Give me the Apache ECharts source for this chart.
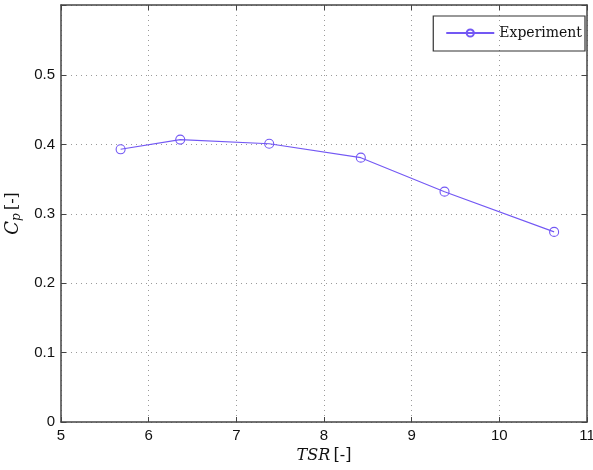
<!DOCTYPE html>
<html>
<head>
<meta charset="utf-8">
<script src="https://cdn.jsdelivr.net/npm/echarts@6/dist/echarts.min.js"></script>
<style>html,body{margin:0;padding:0;background:#fff}#c{width:593px;height:470px}</style>
</head>
<body>
<div id="c"></div>
<script>
const tsr = [5.68, 6.36, 7.375, 8.42, 9.375, 10.625];
const cp = [0.393, 0.407, 0.401, 0.381, 0.332, 0.274];
const seriesName = 'Experiment';
const xTicks = [5, 6, 7, 8, 9, 10, 11];
const yTicks = [0, 0.1, 0.2, 0.3, 0.4, 0.5];

const chart = echarts.init(document.getElementById('c'), null, {renderer: 'canvas'});
const lineColor = '#7358F4';
const axisCol = '#444';
const gridLine = {show: true, lineStyle: {color: '#9a9a9a', type: [1, 4], width: 1}};
const tickStyle = {show: true, inside: true, length: 5, lineStyle: {color: axisCol, width: 1}};
const labelFont = {fontFamily: 'Liberation Sans, Arial, sans-serif', fontSize: 15, color: '#111'};

chart.setOption({
  animation: false,
  backgroundColor: '#fff',
  grid: {left: 61, right: 6, top: 5, bottom: 48, containLabel: false, outerBoundsMode: 'none'},
  legend: {
    data: [seriesName],
    right: 8, top: 16,
    padding: [10, 3, 11, 12],
    borderColor: '#333', borderWidth: 1.2,
    itemWidth: 48, itemHeight: 9, itemGap: 4,
    textStyle: {fontFamily: 'DejaVu Serif, serif', fontSize: 14, color: '#111'}
  },
  xAxis: [{
    type: 'value', min: 5, max: 11, interval: 1,
    name: '{i|TSR} {n|[-]}', nameLocation: 'middle', nameGap: 25,
    nameTextStyle: {rich: {
      i: {fontFamily: 'DejaVu Serif, serif', fontStyle: 'italic', fontSize: 16, color: '#111'},
      n: {fontFamily: 'DejaVu Serif, serif', fontSize: 16, color: '#111'}
    }},
    axisLine: {show: true, onZero: false, lineStyle: {color: axisCol, width: 1.5}},
    axisTick: tickStyle,
    axisLabel: Object.assign({margin: 6}, labelFont),
    splitLine: gridLine
  }, {
    type: 'value', min: 5, max: 11, interval: 1, position: 'top',
    axisLine: {show: true, onZero: false, lineStyle: {color: axisCol, width: 1.5}},
    axisTick: tickStyle, axisLabel: {show: false}, splitLine: {show: false}
  }],
  yAxis: [{
    type: 'value', min: 0, max: 0.601, interval: 0.1,
    name: '{c|C}{p|p} {n|[-]}', nameLocation: 'middle', nameGap: 32, nameRotate: 90,
    nameTextStyle: {rich: {
      c: {fontFamily: 'DejaVu Serif, serif', fontStyle: 'italic', fontSize: 18, color: '#111'},
      p: {fontFamily: 'DejaVu Serif, serif', fontStyle: 'italic', fontSize: 12, color: '#111', verticalAlign: 'bottom', padding: [8, 0, 0, 0]},
      n: {fontFamily: 'DejaVu Serif, serif', fontSize: 16, color: '#111'}
    }},
    axisLine: {show: true, onZero: false, lineStyle: {color: axisCol, width: 1.5}},
    axisTick: tickStyle,
    axisLabel: Object.assign({margin: 6, showMaxLabel: false,
      formatter: v => (v > 0.55 ? '' : String(Math.round(v * 10) / 10))}, labelFont),
    splitLine: gridLine
  }, {
    type: 'value', min: 0, max: 0.601, interval: 0.1, position: 'right',
    axisLine: {show: true, onZero: false, lineStyle: {color: axisCol, width: 1.5}},
    axisTick: tickStyle, axisLabel: {show: false}, splitLine: {show: false}
  }],
  series: [{
    name: seriesName,
    type: 'line',
    data: tsr.map((x, i) => [x, cp[i]]),
    symbol: 'circle', symbolSize: 9,
    lineStyle: {color: lineColor, width: 1.1},
    itemStyle: {color: 'rgba(255,255,255,0)', borderColor: lineColor, borderWidth: 1.1}
  }]
});
</script>
</body>
</html>
